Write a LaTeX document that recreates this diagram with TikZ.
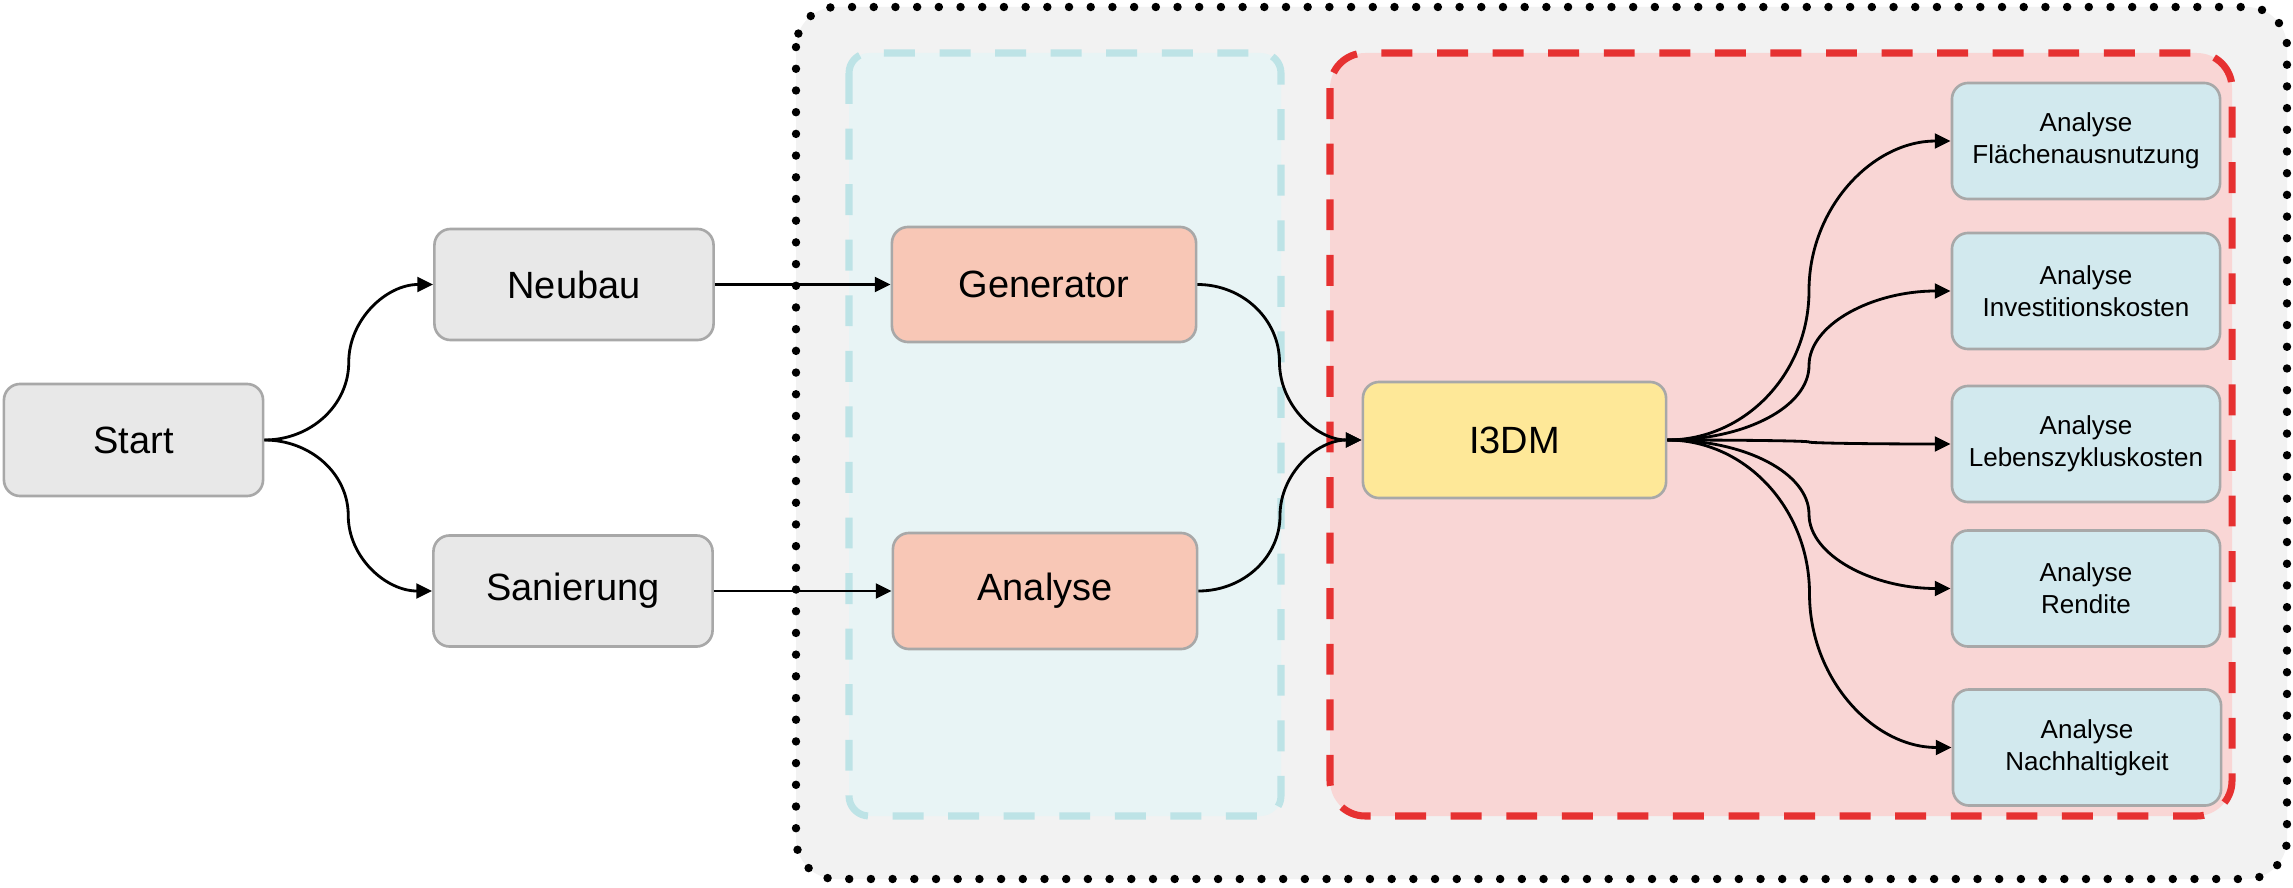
\documentclass[tikz,border=0pt]{standalone}
\usepackage{fontspec}
\setmainfont{Liberation Sans}
\usetikzlibrary{arrows.meta,calc}
\definecolor{greyfill}{HTML}{E8E8E8}
\definecolor{nodeborder}{HTML}{A8A8A8}
\definecolor{salmon}{HTML}{F8C7B6}
\definecolor{yellowfill}{HTML}{FEE898}
\definecolor{anablue}{HTML}{D2E9EE}
\definecolor{outerfill}{HTML}{F2F2F2}
\definecolor{bluefill}{HTML}{E8F4F5}
\definecolor{bluestroke}{HTML}{BDE3E6}
\definecolor{redfill}{HTML}{F9D6D5}
\definecolor{redstroke}{HTML}{E63131}
\newcommand\clink[2]{\draw[edge] let \p1=(#1), \p2=(#2), \n1={(\x1+\x2)/2}, \n2={(\y1+\y2)/2} in (#1)
  .. controls ({\x1+0.552*(\n1-\x1)},\y1) and (\n1,{\y1+0.448*(\n2-\y1)}) .. (\n1,\n2)
  .. controls (\n1,{\y2+0.448*(\n2-\y2)}) and ({\x2-0.552*(\x2-\n1)},\y2) .. (#2);}
\begin{document}
\begin{tikzpicture}[x=0.01cm,y=-0.01cm,
  box/.style={draw=nodeborder, line width=0.75pt, rounded corners=4.6pt, inner sep=0pt, align=center},
  big/.style={box, font=\fontsize{10.8}{13}\selectfont},
  small/.style={box, fill=anablue, minimum width=2.68cm, minimum height=1.16cm, font=\fontsize{7.4}{9}\selectfont},
  edge/.style={draw=black, line width=0.8pt, -{Triangle[length=4.5pt,width=4.2pt]}},
  outerbox/.style={fill=outerfill, draw=black, line width=2.4pt, dash pattern=on 0pt off 6.17pt, line cap=round, rounded corners=11.4pt},
  bluebox/.style={fill=bluefill, draw=bluestroke, line width=2pt, dash pattern=on 8.8pt off 7pt, rounded corners=5.7pt},
  redbox/.style={fill=redfill, draw=redstroke, line width=2pt, dash pattern=on 8.8pt off 7pt, rounded corners=10pt}
]
\useasboundingbox (0,0) rectangle (2293,888);
% containers
\draw[outerbox] (796,7) rectangle (2287,879);
\draw[bluebox] (849,53) rectangle (1281,816);
\draw[redbox] (1330,53) rectangle (2232,816);
% nodes
\node[big, fill=greyfill, minimum width=2.59cm, minimum height=1.12cm] (start) at (133.5,440) {Start};
\node[big, fill=greyfill, minimum width=2.79cm, minimum height=1.11cm] (neubau) at (574,284.5) {Neubau};
\node[big, fill=greyfill, minimum width=2.79cm, minimum height=1.11cm] (sanierung) at (573,591) {Sanierung};
\node[big, fill=salmon, minimum width=3.04cm, minimum height=1.15cm] (generator) at (1044,284.5) {Generator};
\node[big, fill=salmon, minimum width=3.04cm, minimum height=1.16cm] (analyse) at (1045,591) {Analyse};
\node[big, fill=yellowfill, minimum width=3.03cm, minimum height=1.16cm] (i3dm) at (1514.5,440) {I3DM};
\node[small] (a1) at (2086,141) {Analyse\\Flächenausnutzung};
\node[small] (a2) at (2086,291) {Analyse\\Investitionskosten};
\node[small] (a3) at (2086,444) {Analyse\\Lebenszykluskosten};
\node[small] (a4) at (2086,588.5) {Analyse\\Rendite};
\node[small] (a5) at (2087,747.5) {Analyse\\Nachhaltigkeit};
% connectors
\clink{start.east}{neubau.west}
\clink{start.east}{sanierung.west}
\clink{neubau.east}{generator.west}
\clink{sanierung.east}{analyse.west}
\clink{generator.east}{i3dm.west}
\clink{analyse.east}{i3dm.west}
\clink{i3dm.east}{a1.west}
\clink{i3dm.east}{a2.west}
\clink{i3dm.east}{a3.west}
\clink{i3dm.east}{a4.west}
\clink{i3dm.east}{a5.west}
\end{tikzpicture}
\end{document}
